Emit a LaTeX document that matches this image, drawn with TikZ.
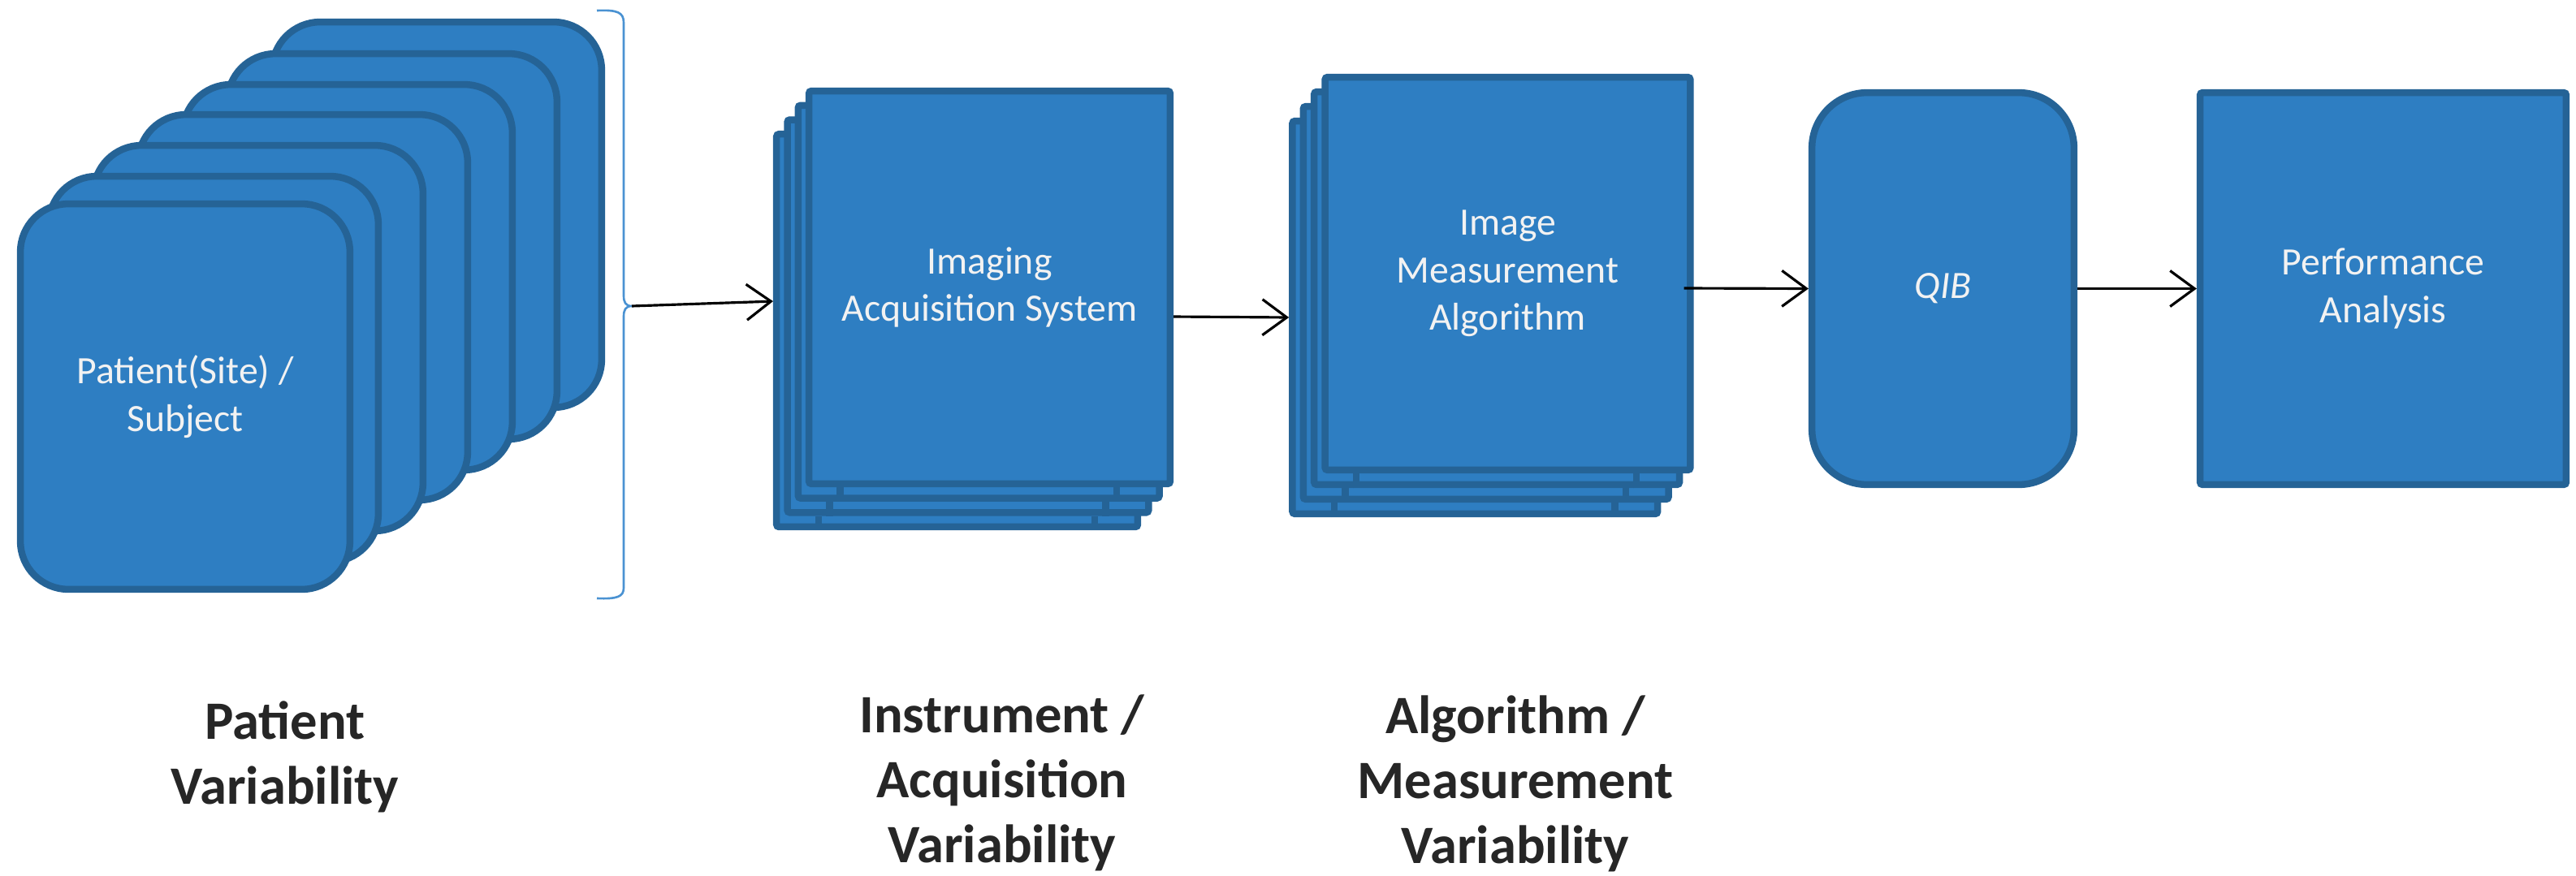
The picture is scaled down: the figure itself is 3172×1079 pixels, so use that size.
\documentclass[tikz,border=0pt]{standalone}
\usepackage{fontspec}
\setmainfont{Carlito}
\usetikzlibrary{arrows.meta}
\definecolor{boxfill}{HTML}{2E7EC2}
\definecolor{boxline}{HTML}{256396}
\definecolor{bracecol}{HTML}{4A92D2}
\definecolor{boxtext}{HTML}{F2F2F2}
\definecolor{lbltext}{HTML}{262626}
\newcommand{\blkfont}{\fontsize{13.57pt}{16.64pt}\selectfont}
\newcommand{\lblfont}{\fontsize{18.92pt}{22.76pt}\selectfont\bfseries}
\begin{document}
\begin{tikzpicture}[x=0.01cm,y=-0.01cm,
  blk/.style={draw=boxline,fill=boxfill,line width=0.085cm,text=boxtext,font=\blkfont,align=center,inner sep=0pt},
  card/.style={blk,rounded corners=0.59cm,minimum width=4.055cm,minimum height=4.745cm},
  acqdoc/.style={blk,rounded corners=0.03cm,minimum width=4.445cm,minimum height=4.835cm},
  msrdoc/.style={blk,rounded corners=0.03cm,minimum width=4.495cm,minimum height=4.835cm},
  brk/.style={boxline,line width=0.085cm},
  arr/.style={-{Straight Barb[length=0.3cm,width=0.44cm]},line width=0.9pt,black},
  lbl/.style={text=lbltext,font=\lblfont,align=center,inner sep=0pt}]
\useasboundingbox (0,0) rectangle (3172,1079);
\node[card] (pat6) at (538,264.5) {};
\node[card] (pat5) at (483,303.5) {};
\node[card] (pat4) at (428,341.5) {};
\node[card] (pat3) at (373,378.5) {};
\node[card] (pat2) at (318,416.5) {};
\node[card] (pat1) at (263,454.5) {};
\node[card] (pat0) at (228,488.5) {Patient(Site) /\\Subject};
\draw[bracecol,line width=0.75pt] (735,13) .. controls (760,12) and (768,15) .. (768,28)
  -- (768,364) .. controls (768,372) and (770,377) .. (778,377)
  .. controls (770,377) and (768,382) .. (768,390)
  -- (768,724) .. controls (768,735) and (760,738) .. (735,737);
\coordinate (brtip) at (778,377);
\node[acqdoc] (acq3) at (1178.6,407.1) {};
\node[acqdoc] (acq2) at (1191.9,389.4) {};
\node[acqdoc] (acq1) at (1205.2,371.7) {};
\node[acqdoc] (acq0) at (1218.5,354) {Imaging\\Acquisition System};
\node[msrdoc] (msr3) at (1816.3,391) {};
\node[msrdoc] (msr2) at (1829.7,373) {};
\node[msrdoc] (msr1) at (1843.1,355) {};
\node[msrdoc] (msr0) at (1856.5,337) {Image\\Measurement\\Algorithm};
\node[blk,rounded corners=0.68cm,minimum width=3.225cm,minimum height=4.825cm] (qib) at (2392.5,355.5) {\itshape QIB};
\node[blk,rounded corners=0.03cm,minimum width=4.505cm,minimum height=4.825cm] (perf) at (2934.5,355.5) {Performance\\Analysis};
\draw[brk] ([xshift=0.56cm]acq1.south west) -- ++(0,-17.7);
\draw[brk] ([xshift=-0.57cm]acq1.south east) -- ++(0,-17.7);
\draw[brk] ([xshift=0.56cm]acq2.south west) -- ++(0,-17.7);
\draw[brk] ([xshift=-0.57cm]acq2.south east) -- ++(0,-17.7);
\draw[brk] ([xshift=0.56cm]acq3.south west) -- ++(0,-17.7);
\draw[brk] ([xshift=-0.57cm]acq3.south east) -- ++(0,-17.7);
\draw[brk] ([xshift=0.56cm]msr1.south west) -- ++(0,-18);
\draw[brk] ([xshift=-0.57cm]msr1.south east) -- ++(0,-18);
\draw[brk] ([xshift=0.56cm]msr2.south west) -- ++(0,-18);
\draw[brk] ([xshift=-0.57cm]msr2.south east) -- ++(0,-18);
\draw[brk] ([xshift=0.56cm]msr3.south west) -- ++(0,-18);
\draw[brk] ([xshift=-0.57cm]msr3.south east) -- ++(0,-18);
\draw[arr] (brtip) -- ([yshift=0.36cm]acq3.west);
\draw[arr] ([yshift=-0.36cm]acq0.east) -- (msr3.west);
\draw[arr] ([xshift=-0.12cm,yshift=-0.18cm]msr0.east) -- (qib.west);
\draw[arr] (qib.east) -- (perf.west);
\node[lbl] (patvar) at (351,932.5) {Patient\\Variability};
\node[lbl] (insvar) at (1234,964) {Instrument /\\Acquisition\\Variability};
\node[lbl] (algvar) at (1866,965) {Algorithm /\\Measurement\\Variability};
\end{tikzpicture}
\end{document}
